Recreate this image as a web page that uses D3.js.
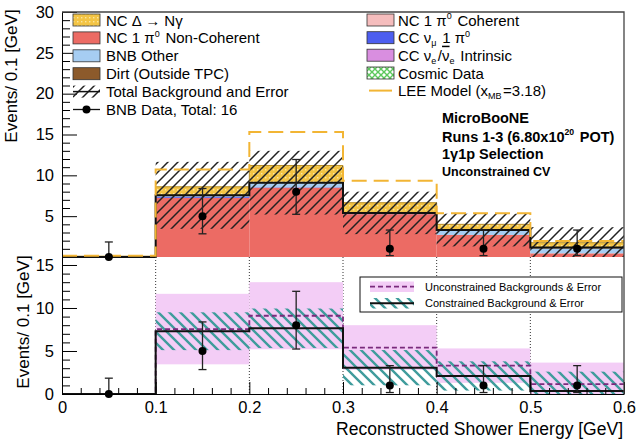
<!DOCTYPE html>
<html lang="en">
<head>
<meta charset="UTF-8">
<title>MicroBooNE 1g1p - Reconstructed Shower Energy</title>
<script src="https://cdn.jsdelivr.net/npm/d3@7"></script>
<style>
    body { margin: 0; background: #fff; }
    svg { display: block; font-family: "Liberation Sans", Arial, Helvetica, sans-serif; }
    .axis path, .axis line { stroke: #000; }
    .axis text { font-size: 16.5px; fill: #000; }
</style>
</head>
<body>
<svg id="chart" width="637" height="444"></svg>
<script>
    // Bins (GeV)
    const binEdges = [0, 0.1, 0.2, 0.3, 0.4, 0.5, 0.6];

    // Stacked MC predictions, unconstrained CV (events / bin)
    const ncPi0NonCoh = [0, 7.25, 8.5, 5.25, 2.7, 0.45];
    const ncPi0Coh    = [0, 0, 0, 0, 0, 0];
    const ccNumuPi0   = [0, 0.15, 0.05, 0.1, 0, 0];
    const bnbOther    = [0, 0.1, 0.5, 0.05, 0.55, 0.6];
    const dirt        = [0, 0.05, 0.05, 0, 0.05, 0.1];
    const ncDelta     = [0.1, 1.05, 2.1, 1.25, 0.7, 0.6];

    // Background totals and errors
    const unconstrBkg = [0, 7.55, 9.1, 5.4, 3.3, 1.15];
    const unconstrErr = [0, 4.1, 3.9, 2.6, 2.0, 2.5];
    const constrBkg   = [0, 7.3, 7.64, 3.06, 2.1, 0.35];
    const constrErr   = [0, 2.2, 2.3, 2.05, 1.7, 2.25];

    // LEE model (x_MB = 3.18)
    const leeModel = [0.15, 10.7, 15.3, 9.35, 5.35, 1.95];

    // BNB data (total 16) with Poisson errors
    const dataCounts = [0, 5, 8, 1, 1, 1];
    const dataErrLow = [0, 2.16, 2.77, 0.83, 0.83, 0.83];
    const dataErrHigh = [1.84, 3.38, 3.94, 2.3, 2.3, 2.3];

    const topTicks = [5, 10, 15, 20, 25, 30];
    const botTicks = [0, 5, 10, 15];
    const xTicks = [0, 0.1, 0.2, 0.3, 0.4, 0.5, 0.6];

    const svg = d3.select('#chart');
    const defs = svg.append('defs');

    // --- patterns ---
    const hatchTop = defs.append('pattern').attr('id', 'hatchTop')
        .attr('patternUnits', 'userSpaceOnUse').attr('width', 10).attr('height', 10);
    hatchTop.append('path').attr('d', 'M0,10 L10,0 M-3,3 L3,-3 M7,13 L13,7')
        .attr('stroke', '#222').attr('stroke-width', 1.5);

    const hatchTeal = defs.append('pattern').attr('id', 'hatchTeal')
        .attr('patternUnits', 'userSpaceOnUse').attr('width', 11).attr('height', 11);
    hatchTeal.append('path').attr('d', 'M0,0 L11,11 M-3,8 L3,14 M8,-3 L14,3')
        .attr('stroke', '#3f9c9c').attr('stroke-width', 2.4);

    const dots = defs.append('pattern').attr('id', 'dotsYellow')
        .attr('patternUnits', 'userSpaceOnUse').attr('width', 4).attr('height', 4);
    dots.append('rect').attr('width', 4).attr('height', 4).attr('fill', '#f3c444');
    dots.append('rect').attr('x', 1).attr('y', 1).attr('width', 1.4).attr('height', 1.4).attr('fill', '#fbe6a0');

    const cross = defs.append('pattern').attr('id', 'crossGreen')
        .attr('patternUnits', 'userSpaceOnUse').attr('width', 6).attr('height', 6);
    cross.append('rect').attr('width', 6).attr('height', 6).attr('fill', '#fff');
    cross.append('path').attr('d', 'M0,0 L6,6 M6,0 L0,6')
        .attr('stroke', '#5cc85c').attr('stroke-width', 1.4);

    // --- geometry ---
    const left = 62, right = 624;
    const topY0 = 12, split = 257, botY1 = 394;

    const x = d3.scaleLinear().domain([0, 0.6]).range([left, right]);
    const yTop = d3.scaleLinear().domain([0, 30]).range([split, topY0]);
    const yBot = d3.scaleLinear().domain([0, 15.93]).range([botY1, split]);

    const bins = d3.range(6).map(i => ({
        i, x0: binEdges[i], x1: binEdges[i + 1],
        ncPi0NonCoh: ncPi0NonCoh[i], ncPi0Coh: ncPi0Coh[i], ccNumuPi0: ccNumuPi0[i],
        bnbOther: bnbOther[i], dirt: dirt[i], ncDelta: ncDelta[i]
    }));

    const layerColors = {
        ncPi0NonCoh: '#ec6b64', ncPi0Coh: '#f5bdbd', ccNumuPi0: '#4d5ef0',
        bnbOther: '#a6cdf2', dirt: '#8c5a2b', ncDelta: 'url(#dotsYellow)'
    };
    const stack = d3.stack().keys(Object.keys(layerColors));

    const stepLine = (scale, values) => d3.line()
        .x(d => x(d[0])).y(d => scale(d[1]))
        .curve(d3.curveStepAfter)(binEdges.map((e, i) => [e, values[Math.min(i, values.length - 1)]]));

    // ===== Top panel =====
    const gTop = svg.append('g');

    stack(bins).forEach(layer => {
        gTop.selectAll(null).data(layer).enter().append('rect')
            .attr('x', d => x(d.data.x0))
            .attr('width', d => x(d.data.x1) - x(d.data.x0))
            .attr('y', d => yTop(d[1]))
            .attr('height', d => yTop(d[0]) - yTop(d[1]))
            .attr('fill', layerColors[layer.key]);
    });

    // top outline of signal
    const stackTotal = bins.map(b => unconstrBkg[b.i] + ncDelta[b.i]);
    gTop.append('path').attr('d', stepLine(yTop, stackTotal))
        .attr('fill', 'none').attr('stroke', '#b8902a').attr('stroke-width', 1);

    // background +/- error hatch
    gTop.selectAll(null).data(bins.filter(b => unconstrErr[b.i] > 0)).enter().append('rect')
        .attr('x', d => x(d.x0))
        .attr('width', d => x(d.x1) - x(d.x0))
        .attr('y', d => yTop(unconstrBkg[d.i] + unconstrErr[d.i]))
        .attr('height', d => yTop(Math.max(0, unconstrBkg[d.i] - unconstrErr[d.i])) - yTop(unconstrBkg[d.i] + unconstrErr[d.i]))
        .attr('fill', 'url(#hatchTop)');

    // total background line
    gTop.append('path').attr('d', stepLine(yTop, unconstrBkg))
        .attr('fill', 'none').attr('stroke', '#111').attr('stroke-width', 2);

    // LEE model
    gTop.append('path').attr('d', stepLine(yTop, leeModel))
        .attr('fill', 'none').attr('stroke', '#f2b534').attr('stroke-width', 2)
        .attr('stroke-dasharray', '15,7');

    // ===== Bottom panel =====
    const gBot = svg.append('g');

    // bin edge dotted grid
    gBot.selectAll(null).data(binEdges.slice(1, 6)).enter().append('line')
        .attr('x1', d => x(d)).attr('x2', d => x(d))
        .attr('y1', split).attr('y2', botY1)
        .attr('stroke', '#333').attr('stroke-width', 1).attr('stroke-dasharray', '1,2');

    const errBand = (centre, err, fill) => gBot.selectAll(null)
        .data(bins.filter(b => err[b.i] > 0)).enter().append('rect')
        .attr('x', d => x(d.x0))
        .attr('width', d => x(d.x1) - x(d.x0))
        .attr('y', d => yBot(centre[d.i] + err[d.i]))
        .attr('height', d => yBot(Math.max(0, centre[d.i] - err[d.i])) - yBot(centre[d.i] + err[d.i]))
        .attr('fill', fill);

    errBand(unconstrBkg, unconstrErr, '#f3cdf6');
    errBand(constrBkg, constrErr, 'url(#hatchTeal)');

    gBot.append('path').attr('d', stepLine(yBot, unconstrBkg))
        .attr('fill', 'none').attr('stroke', '#7a2a7c').attr('stroke-width', 1.8)
        .attr('stroke-dasharray', '5,3');
    gBot.append('path').attr('d', stepLine(yBot, constrBkg))
        .attr('fill', 'none').attr('stroke', '#111').attr('stroke-width', 2);

    // ===== Data points =====
    function drawData(g, scale) {
        const pts = g.selectAll(null).data(bins).enter().append('g');
        const cx = d => x((d.x0 + d.x1) / 2);
        const lo = d => scale(dataCounts[d.i] - dataErrLow[d.i]);
        const hi = d => scale(dataCounts[d.i] + dataErrHigh[d.i]);
        pts.append('line')
            .attr('x1', cx).attr('x2', cx).attr('y1', lo).attr('y2', hi)
            .attr('stroke', '#222').attr('stroke-width', 1.3);
        [lo, hi].forEach(yf => {
            pts.append('line')
                .attr('x1', d => cx(d) - 4).attr('x2', d => cx(d) + 4)
                .attr('y1', yf).attr('y2', yf)
                .attr('stroke', '#222').attr('stroke-width', 1.3);
        });
        pts.append('circle')
            .attr('cx', cx).attr('cy', d => scale(dataCounts[d.i]))
            .attr('r', 4).attr('fill', '#000');
    }
    drawData(gTop, yTop);
    drawData(gBot, yBot);

    // ===== Axes =====
    svg.append('g').attr('class', 'axis').attr('transform', `translate(${left},0)`)
        .call(d3.axisLeft(yTop).tickValues(topTicks).tickSizeInner(-15).tickSizeOuter(0).tickPadding(8));
    svg.append('g').attr('class', 'axis').attr('transform', `translate(${left},0)`)
        .call(d3.axisLeft(yTop).tickValues(d3.range(1, 30).filter(v => v % 5)).tickSizeInner(-8).tickSizeOuter(0).tickFormat(''))
        .select('.domain').remove();

    svg.append('g').attr('class', 'axis').attr('transform', `translate(${left},0)`)
        .call(d3.axisLeft(yBot).tickValues(botTicks).tickSizeInner(-15).tickSizeOuter(0).tickPadding(8));
    svg.append('g').attr('class', 'axis').attr('transform', `translate(${left},0)`)
        .call(d3.axisLeft(yBot).tickValues(d3.range(1, 16).filter(v => v % 5)).tickSizeInner(-8).tickSizeOuter(0).tickFormat(''))
        .select('.domain').remove();

    svg.append('g').attr('class', 'axis').attr('transform', `translate(0,${botY1})`)
        .call(d3.axisBottom(x).tickValues(xTicks).tickSizeInner(-12).tickSizeOuter(0).tickPadding(7)
            .tickFormat(d => d === 0 ? '0' : d3.format('.1f')(d)));
    svg.append('g').attr('class', 'axis').attr('transform', `translate(0,${botY1})`)
        .call(d3.axisBottom(x).tickValues(d3.range(0, 0.6, 0.02).filter((v, i) => i % 5)).tickSizeInner(-6).tickSizeOuter(0).tickFormat(''))
        .select('.domain').remove();

    // frame: top, right
    svg.append('path').attr('d', `M${left},${topY0}H${right}V${botY1}`)
        .attr('fill', 'none').attr('stroke', '#444').attr('stroke-width', 1.3);

    // axis titles
    svg.append('text').attr('transform', 'translate(17,76) rotate(-90)')
        .attr('text-anchor', 'middle').attr('font-size', 17).text('Events/ 0.1 [GeV]');
    svg.append('text').attr('transform', 'translate(28.5,322) rotate(-90)')
        .attr('text-anchor', 'middle').attr('font-size', 17).text('Events/ 0.1 [GeV]');
    svg.append('text').attr('x', 623).attr('y', 435).attr('text-anchor', 'end')
        .attr('font-size', 17.5).text('Reconstructed Shower Energy [GeV]');

    // ===== Legend (top) =====
    // text with sub/superscripts, shifted with dy and reset afterwards
    function richText(g, xPos, yPos, parts, size) {
        const t = g.append('text').attr('x', xPos).attr('y', yPos).attr('font-size', size);
        let shift = 0;
        parts.forEach(p => {
            const target = p.sup ? -0.42 * size : p.sub ? 0.2 * size : 0;
            const s = t.append('tspan').attr('dy', target - shift).text(p.t);
            if (shift !== 0 && target === 0) s.attr('dx', 1.5);
            shift = target;
            if (p.sup || p.sub) s.attr('font-size', size * 0.6);
            if (p.bar) s.style('text-decoration', 'overline');
        });
        return t;
    }

    const leg = svg.append('g');
    const leftRows = [20, 37.9, 55.8, 73.7, 91.6, 109.5];
    const rightRows = [20, 37.7, 55.2, 73, 90.6];
    const leftEntries = [
        { fill: 'url(#dotsYellow)', parts: [{ t: 'NC Δ → Nγ' }] },
        { fill: '#ec6b64', parts: [{ t: 'NC 1 π' }, { t: '0', sup: true }, { t: ' Non-Coherent' }] },
        { fill: '#a6cdf2', parts: [{ t: 'BNB Other' }] },
        { fill: '#8c5a2b', parts: [{ t: 'Dirt (Outside TPC)' }] },
        { hatch: true, parts: [{ t: 'Total Background and Error' }] },
        { marker: true, parts: [{ t: 'BNB Data, Total: 16' }] }
    ];
    const rightEntries = [
        { fill: '#f5bdbd', parts: [{ t: 'NC 1 π' }, { t: '0', sup: true }, { t: ' Coherent' }] },
        { fill: '#4d5ef0', parts: [{ t: 'CC ν' }, { t: 'μ', sub: true }, { t: ' 1 π' }, { t: '0', sup: true }] },
        { fill: '#d98ee0', parts: [{ t: 'CC ν' }, { t: 'e', sub: true }, { t: '/' }, { t: 'ν', bar: true }, { t: 'e', sub: true }, { t: ' Intrinsic' }] },
        { fill: 'url(#crossGreen)', parts: [{ t: 'Cosmic Data' }] },
        { line: '#f2b534', parts: [{ t: 'LEE Model (x' }, { t: 'MB', sub: true }, { t: '=3.18)' }] }
    ];

    function drawEntries(entries, rows, bx, tx) {
        entries.forEach((e, i) => {
            const cy = rows[i];
            if (e.fill) {
                leg.append('rect').attr('x', bx).attr('y', cy - 6).attr('width', 27).attr('height', 12)
                    .attr('fill', e.fill).attr('stroke', '#333').attr('stroke-width', 0.8);
            } else if (e.hatch) {
                leg.append('rect').attr('x', bx).attr('y', cy - 6).attr('width', 27).attr('height', 12)
                    .attr('fill', 'url(#hatchTop)');
                leg.append('line').attr('x1', bx).attr('x2', bx + 27).attr('y1', cy).attr('y2', cy)
                    .attr('stroke', '#111').attr('stroke-width', 1.5);
            } else if (e.marker) {
                leg.append('line').attr('x1', bx).attr('x2', bx + 27).attr('y1', cy).attr('y2', cy)
                    .attr('stroke', '#111').attr('stroke-width', 1.3);
                leg.append('circle').attr('cx', bx + 13.5).attr('cy', cy).attr('r', 4).attr('fill', '#000');
            } else if (e.line) {
                leg.append('line').attr('x1', bx + 2).attr('x2', bx + 25).attr('y1', cy).attr('y2', cy)
                    .attr('stroke', e.line).attr('stroke-width', 2);
            }
            richText(leg, tx, cy + 5.5, e.parts, 15);
        });
    }
    drawEntries(leftEntries, leftRows, 73, 106);
    drawEntries(rightEntries, rightRows, 367, 398);

    // experiment labels
    const labels = svg.append('g').attr('font-weight', 'bold');
    labels.append('text').attr('x', 442).attr('y', 123).attr('font-size', 14.5).text('MicroBooNE');
    richText(labels, 442, 141.5, [{ t: 'Runs 1-3 (6.80x10' }, { t: '20', sup: true }, { t: ' POT)' }], 14.5);
    labels.append('text').attr('x', 442).attr('y', 158.5).attr('font-size', 14.5).text('1γ1p Selection');
    labels.append('text').attr('x', 442).attr('y', 176).attr('font-size', 12.5).text('Unconstrained CV');

    // ===== Legend (bottom) =====
    const leg2 = svg.append('g');
    leg2.append('rect').attr('x', 360).attr('y', 277).attr('width', 262).attr('height', 35)
        .attr('fill', '#fff').attr('stroke', '#111').attr('stroke-width', 1);
    leg2.append('rect').attr('x', 370).attr('y', 281.5).attr('width', 44).attr('height', 10.5).attr('fill', '#f3cdf6');
    leg2.append('line').attr('x1', 370).attr('x2', 414).attr('y1', 286.7).attr('y2', 286.7)
        .attr('stroke', '#7a2a7c').attr('stroke-width', 1.8).attr('stroke-dasharray', '5,3');
    leg2.append('rect').attr('x', 370).attr('y', 298).attr('width', 44).attr('height', 10.5).attr('fill', 'url(#hatchTeal)');
    leg2.append('line').attr('x1', 370).attr('x2', 414).attr('y1', 303.3).attr('y2', 303.3)
        .attr('stroke', '#111').attr('stroke-width', 2);
    leg2.append('text').attr('x', 425).attr('y', 290.5).attr('font-size', 11).text('Unconstrained Backgrounds & Error');
    leg2.append('text').attr('x', 425).attr('y', 307).attr('font-size', 11).text('Constrained Background & Error');
</script>
</body>
</html>
